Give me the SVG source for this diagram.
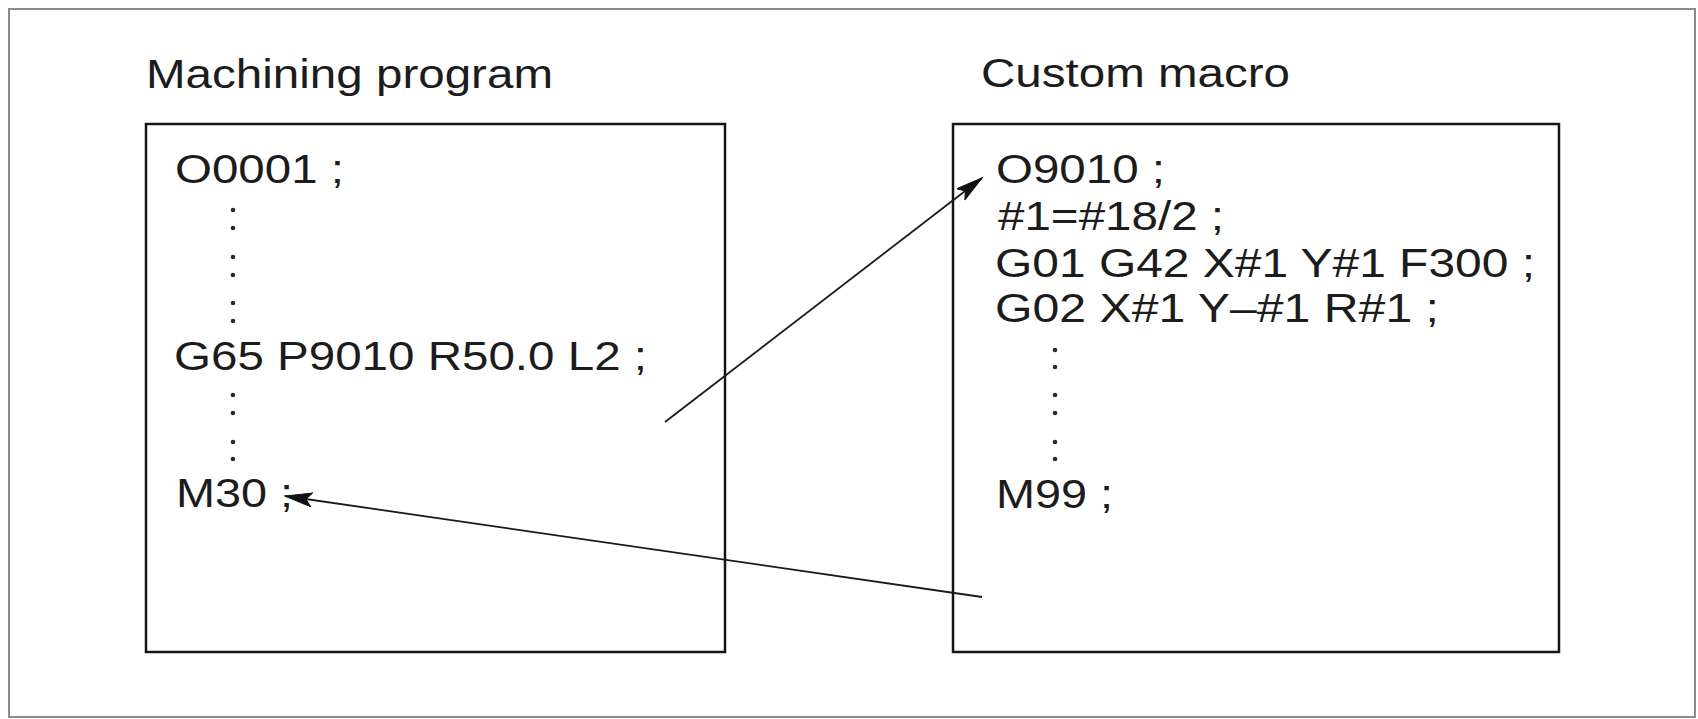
<svg xmlns="http://www.w3.org/2000/svg" width="1698" height="719" viewBox="0 0 1698 719">
  <style>
    .t { font-family: "Liberation Sans", Arial, Helvetica, sans-serif; font-size: 40px; fill: #1c1c1c; }
    .box { fill: none; stroke: #151515; stroke-width: 2.5; }
    .frame { fill: #ffffff; stroke: #8c8c8c; stroke-width: 2; }
    .conn { fill: none; stroke: #1a1a1a; stroke-width: 1.8; }
    .dot { fill: #2a2a2a; }
  </style>
  <defs>
    <marker id="arrow" markerUnits="userSpaceOnUse" markerWidth="30" markerHeight="16" refX="27" refY="7" orient="auto">
      <path d="M0,0 L27,7 L0,14 L6,7 z" fill="#111" stroke="#111" stroke-width="1"/>
    </marker>
  </defs>
  <rect width="1698" height="719" fill="#ffffff"/>
  <rect class="frame" x="9" y="9" width="1686" height="708"/>

  <g id="machining-program">
    <text class="t" x="146" y="88" textLength="407" lengthAdjust="spacingAndGlyphs">Machining program</text>
    <rect class="box" x="146" y="124" width="579" height="528"/>
    <text class="t" x="175" y="183" textLength="169" lengthAdjust="spacingAndGlyphs">O0001 ;</text>
    <g class="dot">
      <circle cx="233" cy="210" r="2.3"/>
      <circle cx="233" cy="228" r="2.3"/>
      <circle cx="233" cy="257" r="2.3"/>
      <circle cx="233" cy="275" r="2.3"/>
      <circle cx="233" cy="303" r="2.3"/>
      <circle cx="233" cy="321" r="2.3"/>
    </g>
    <text class="t" x="174" y="370" textLength="473" lengthAdjust="spacingAndGlyphs">G65 P9010 R50.0 L2 ;</text>
    <g class="dot">
      <circle cx="233" cy="395" r="2.3"/>
      <circle cx="233" cy="413" r="2.3"/>
      <circle cx="233" cy="442" r="2.3"/>
      <circle cx="233" cy="459" r="2.3"/>
    </g>
    <text class="t" x="176" y="507" textLength="117" lengthAdjust="spacingAndGlyphs">M30 ;</text>
  </g>

  <g id="custom-macro">
    <text class="t" x="981" y="87" textLength="309" lengthAdjust="spacingAndGlyphs">Custom macro</text>
    <rect class="box" x="953" y="124" width="606" height="528"/>
    <text class="t" x="996" y="183" textLength="169" lengthAdjust="spacingAndGlyphs">O9010 ;</text>
    <text class="t" x="998" y="230" textLength="226" lengthAdjust="spacingAndGlyphs">#1=#18/2 ;</text>
    <text class="t" x="995" y="277" textLength="540" lengthAdjust="spacingAndGlyphs">G01 G42 X#1 Y#1 F300 ;</text>
    <text class="t" x="995" y="322" textLength="444" lengthAdjust="spacingAndGlyphs">G02 X#1 Y–#1 R#1 ;</text>
    <g class="dot">
      <circle cx="1055" cy="350" r="2.3"/>
      <circle cx="1055" cy="367" r="2.3"/>
      <circle cx="1055" cy="395" r="2.3"/>
      <circle cx="1055" cy="413" r="2.3"/>
      <circle cx="1055" cy="442" r="2.3"/>
      <circle cx="1055" cy="459" r="2.3"/>
    </g>
    <text class="t" x="996" y="508" textLength="117" lengthAdjust="spacingAndGlyphs">M99 ;</text>
  </g>

  <g id="connectors">
    <line class="conn" x1="665" y1="422" x2="982" y2="178" marker-end="url(#arrow)"/>
    <line class="conn" x1="982" y1="597" x2="285" y2="496" stroke-width="2.2" marker-end="url(#arrow)"/>
  </g>
</svg>
